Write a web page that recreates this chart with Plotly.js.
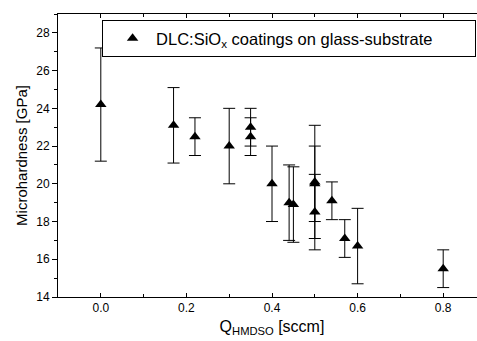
<!DOCTYPE html>
<html>
<head>
<meta charset="utf-8">
<script src="https://cdn.plot.ly/plotly-3.0.1.min.js"></script>
<style>
html,body{margin:0;padding:0;overflow:hidden;background:#fff;}
#chart{width:490px;height:341px;}
</style>
</head>
<body>
<div id="chart"></div>
<script>
// Q_HMDSO flow [sccm]
const flowSccm = [0.00, 0.17, 0.22, 0.30, 0.35, 0.35, 0.40, 0.44, 0.45, 0.50, 0.50, 0.50, 0.54, 0.57, 0.60, 0.80];
// Microhardness [GPa]
const hardness = [24.2, 23.1, 22.5, 22.0, 23.0, 22.5, 20.0, 19.0, 18.9, 20.1, 20.0, 18.5, 19.1, 17.1, 16.7, 15.5];
// Error (symmetric) [GPa]
const hardnessErr = [3.0, 2.0, 1.0, 2.0, 1.0, 1.0, 2.0, 2.0, 2.0, 3.0, 2.0, 2.0, 1.0, 1.0, 2.0, 1.0];
const seriesName = 'DLC:SiO<sub>x</sub> coatings on glass-substrate';
const xTickVals = [0.0, 0.2, 0.4, 0.6, 0.8];
const xTickText = ['0.0', '0.2', '0.4', '0.6', '0.8'];
const yTickVals = [14, 16, 18, 20, 22, 24, 26, 28];

const trace = {
  x: flowSccm,
  y: hardness,
  type: 'scatter',
  mode: 'markers',
  name: seriesName,
  showlegend: true,
  marker: {symbol: 'triangle-up', size: 10, color: '#000'},
  error_y: {type: 'data', array: hardnessErr, visible: true, color: '#000', thickness: 1, width: 6}
};

const font = {family: 'Arial, "Liberation Sans", sans-serif', color: '#000'};

const layout = {
  width: 490,
  height: 341,
  margin: {l: 58, r: 4, t: 14, b: 44, autoexpand: false},
  paper_bgcolor: '#fff',
  plot_bgcolor: '#fff',
  font: Object.assign({size: 12}, font),
  showlegend: true,
  legend: {
    orientation: 'h',
    x: 0.103, y: 0.979, xanchor: 'left', yanchor: 'top',
    bgcolor: '#fff', bordercolor: '#000', borderwidth: 1,
    font: Object.assign({size: 16.5}, font),
    itemwidth: 37,
    indentation: 6,
    entrywidth: 314,
    tracegroupgap: 0
  },
  xaxis: {
    range: [-0.1, 0.9],
    tickvals: xTickVals, ticktext: xTickText,
    ticks: 'inside', ticklen: 4, tickwidth: 1, tickcolor: '#000',
    minor: {dtick: 0.1, tick0: 0, ticks: 'inside', ticklen: 3, tickwidth: 1, tickcolor: '#000', showgrid: false},
    showline: true, linecolor: '#000', linewidth: 1, mirror: 'ticks',
    showgrid: false, zeroline: false,
    tickfont: Object.assign({size: 12}, font),
    title: {text: 'Q<sub>HMDSO</sub> [sccm]', font: Object.assign({size: 16}, font), standoff: 6}
  },
  yaxis: {
    range: [14, 29],
    tickvals: yTickVals,
    ticks: 'outside', ticklen: 5, tickwidth: 1, tickcolor: '#000',
    minor: {dtick: 1, tick0: 14, ticks: 'outside', ticklen: 3, tickwidth: 1, tickcolor: '#000', showgrid: false},
    showline: true, linecolor: '#000', linewidth: 1,
    showgrid: false, zeroline: false,
    tickfont: Object.assign({size: 12}, font),
    title: {text: 'Microhardness [GPa]', font: Object.assign({size: 15}, font), standoff: 4}
  }
};

Plotly.newPlot('chart', [trace], layout, {displayModeBar: false, staticPlot: true});
</script>
</body>
</html>
